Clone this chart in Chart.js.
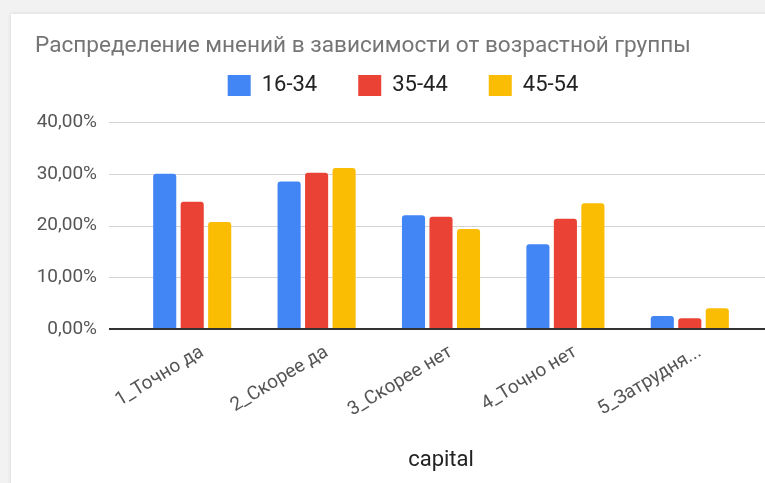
<!DOCTYPE html>
<html>
<head>
<meta charset="utf-8">
<script src="https://cdn.jsdelivr.net/npm/chart.js@4.4.1/dist/chart.umd.min.js"></script>
<style>
  html, body { margin: 0; padding: 0; width: 765px; height: 483px; overflow: hidden; background: #f2f2f2; }
  #card { position: absolute; left: 11px; top: 14px; width: 800px; height: 520px; background: #fff; box-shadow: 0 0 4px rgba(0, 0, 0, .12); }
  #wrap { position: absolute; left: 0; top: 0; width: 771px; height: 483px; }
</style>
</head>
<body>
<div id="card"></div>
<div id="wrap"><canvas id="chart-opinions" width="771" height="483"></canvas></div>
<script>
  /*
    ==================================================
    ====================== DATA ======================
    ==================================================
  */

  const categories = ['1_Точно да', '2_Скорее да', '3_Скорее нет', '4_Точно нет', '5_Затрудня...'];
  const seriesNames = ['16-34', '35-44', '45-54'];
  const values16_34 = [30.0, 28.5, 22.0, 16.4, 2.5];
  const values35_44 = [24.6, 30.2, 21.7, 21.3, 2.1];
  const values45_54 = [20.7, 31.1, 19.3, 24.3, 4.0];
  const yTicks = [0, 10, 20, 30, 40];

  const colors = ['#4285f4', '#ea4335', '#fbbc04'];
  const FONT = 'Roboto';
  const GRID_LEFT = 109;
  const LEGEND_GAP = 15.5;

  /*
    ==================================================
    ===================== PLUGIN =====================
    ==================================================
  */

  // horizontal grid that runs past the bars, like the sheets chart
  let sheetGrid = {
    id: 'sheetGrid',
    afterInit(chart) {
      // leave some room between legend and plot
      let legend = chart.legend, fit = legend.fit;
      legend.fit = function () { fit.call(this); this.height += LEGEND_GAP; };
    },
    beforeDatasetsDraw(chart) {
      let y = chart.scales.y, ctx = chart.ctx;
      ctx.save();
      ctx.strokeStyle = '#d4d4d4';
      ctx.lineWidth = 1;
      y.ticks.forEach(t => {
        if (t.value === 0) return;
        let py = Math.round(y.getPixelForValue(t.value)) + 0.5;
        ctx.beginPath();
        ctx.moveTo(GRID_LEFT, py);
        ctx.lineTo(chart.width, py);
        ctx.stroke();
      });
      ctx.restore();
    },
    afterDatasetsDraw(chart) {
      let y = chart.scales.y, ctx = chart.ctx;
      let py = Math.round(y.getPixelForValue(0));
      ctx.save();
      ctx.strokeStyle = '#333';
      ctx.lineWidth = 2;
      ctx.beginPath();
      ctx.moveTo(GRID_LEFT, py);
      ctx.lineTo(chart.width, py);
      ctx.stroke();
      ctx.restore();
    }
  };

  /*
    ==================================================
    ===================== CHART ======================
    ==================================================
  */

  let ctx = document.getElementById('chart-opinions').getContext('2d');

  let chart = new Chart(ctx, {
    type: 'bar',
    data: {
      labels: categories,
      datasets: [values16_34, values35_44, values45_54].map((data, i) => ({
        label: seriesNames[i],
        data: data,
        backgroundColor: colors[i],
        borderRadius: 3,
        categoryPercentage: 0.663,
        barPercentage: 0.84
      }))
    },
    options: {
      responsive: false,
      animation: false,
      layout: { padding: { left: 35, right: 0, top: 0, bottom: 0 } },
      plugins: {
        tooltip: { enabled: false },
        title: {
          display: true,
          text: 'Распределение мнений в зависимости от возрастной группы',
          align: 'start',
          color: '#757575',
          font: { family: FONT, size: 22.6, weight: 'normal', lineHeight: 1 },
          padding: { top: 34.7, bottom: -23.8 }
        },
        legend: {
          display: true,
          position: 'top',
          labels: {
            boxWidth: 23,
            boxHeight: 21,
            padding: 41,
            color: '#222',
            font: { family: FONT, size: 22 }
          }
        }
      },
      scales: {
        x: {
          grid: { display: false },
          border: { display: false },
          ticks: {
            autoSkip: false,
            minRotation: 31,
            maxRotation: 31,
            padding: 4,
            labelOffset: 10,
            color: '#555',
            font: { family: FONT, size: 19 }
          },
          title: {
            display: true,
            text: 'capital',
            color: '#222',
            font: { family: FONT, size: 22 },
            padding: { top: 0, bottom: 9 }
          },
          afterFit: s => { s.height = 154; }
        },
        y: {
          min: 0,
          max: 40,
          afterBuildTicks: s => { s.ticks = yTicks.map(v => ({ value: v })); },
          grid: { display: false, drawTicks: false },
          border: { display: false },
          ticks: {
            padding: 33,
            color: '#555',
            font: { family: FONT, size: 19 },
            callback: v => v.toFixed(2).replace('.', ',') + '%'
          },
          afterFit: s => { s.width = 95; }
        },
        y2: {
          position: 'right',
          display: true,
          grid: { display: false },
          border: { display: false },
          ticks: { display: false },
          afterFit: s => { s.width = 19; }
        }
      }
    },
    plugins: [sheetGrid]
  });
</script>
</body>
</html>
